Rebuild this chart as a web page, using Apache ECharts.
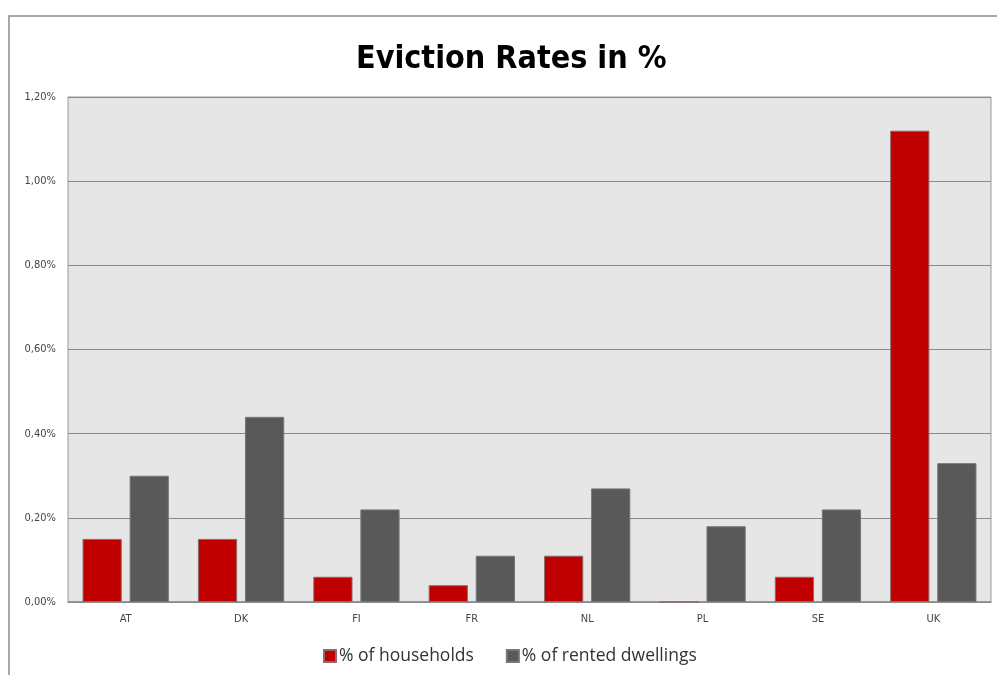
<!DOCTYPE html>
<html><head><meta charset="utf-8">
<script src="https://cdn.jsdelivr.net/npm/echarts@6/dist/echarts.min.js"></script>
<style>html,body{margin:0;padding:0;background:#fff}#c{width:997px;height:675px}</style>
</head><body><div id="c"></div>
<script>
const categories = ['AT','DK','FI','FR','NL','PL','SE','UK'];
const households = [0.15,0.15,0.06,0.04,0.11,0,0.06,1.12];
const rentedDwellings = [0.30,0.44,0.22,0.11,0.27,0.18,0.22,0.33];
const seriesNames = ['% of households','% of rented dwellings'];
const chart = echarts.init(document.getElementById('c'));
const F = '"DejaVu Sans Condensed","Liberation Sans",sans-serif';
chart.setOption({
  animation:false,
  title:{text:'Eviction Rates in %',left:351,top:39,
    textStyle:{fontFamily:F,fontWeight:'bold',fontSize:32,color:'#000'}},
  graphic:[{type:'rect',shape:{x:9,y:16,width:1000,height:700},
    style:{fill:'none',stroke:'#8c8c8c',lineWidth:1.5},silent:true}],
  legend:{bottom:5,left:318,itemWidth:12,itemHeight:12,itemGap:32,icon:'rect',
    textStyle:{fontFamily:'"Open Sans",sans-serif',fontSize:17.5,color:'#333',padding:[0,0,0,-2]},
    data:seriesNames},
  grid:{left:68,right:6,top:97,bottom:73,show:true,backgroundColor:'#e6e6e6',
    borderColor:'#9a9a9a',borderWidth:1},
  xAxis:{type:'category',data:categories,
    axisLine:{lineStyle:{color:'#8a8a8a',width:1.5}},axisTick:{show:false},
    axisLabel:{fontFamily:F,fontSize:11,color:'#444',margin:12}},
  yAxis:{type:'value',min:0,max:1.2,interval:0.2,
    axisLine:{show:false},axisTick:{show:false},
    splitLine:{lineStyle:{color:'#8a8a8a',width:1.2}},
    axisLabel:{fontFamily:F,fontSize:11,color:'#444',margin:12,
      formatter:v=>v.toFixed(2).replace('.',',')+'%'}},
  series:[
    {name:seriesNames[0],type:'bar',data:households,barWidth:'34%',barGap:'20%',
      itemStyle:{color:'#c00000',borderColor:'#8f6a6a',borderWidth:1}},
    {name:seriesNames[1],type:'bar',data:rentedDwellings,barWidth:'34%',
      itemStyle:{color:'#595959',borderColor:'#777',borderWidth:1}}
  ]
});
</script></body></html>
